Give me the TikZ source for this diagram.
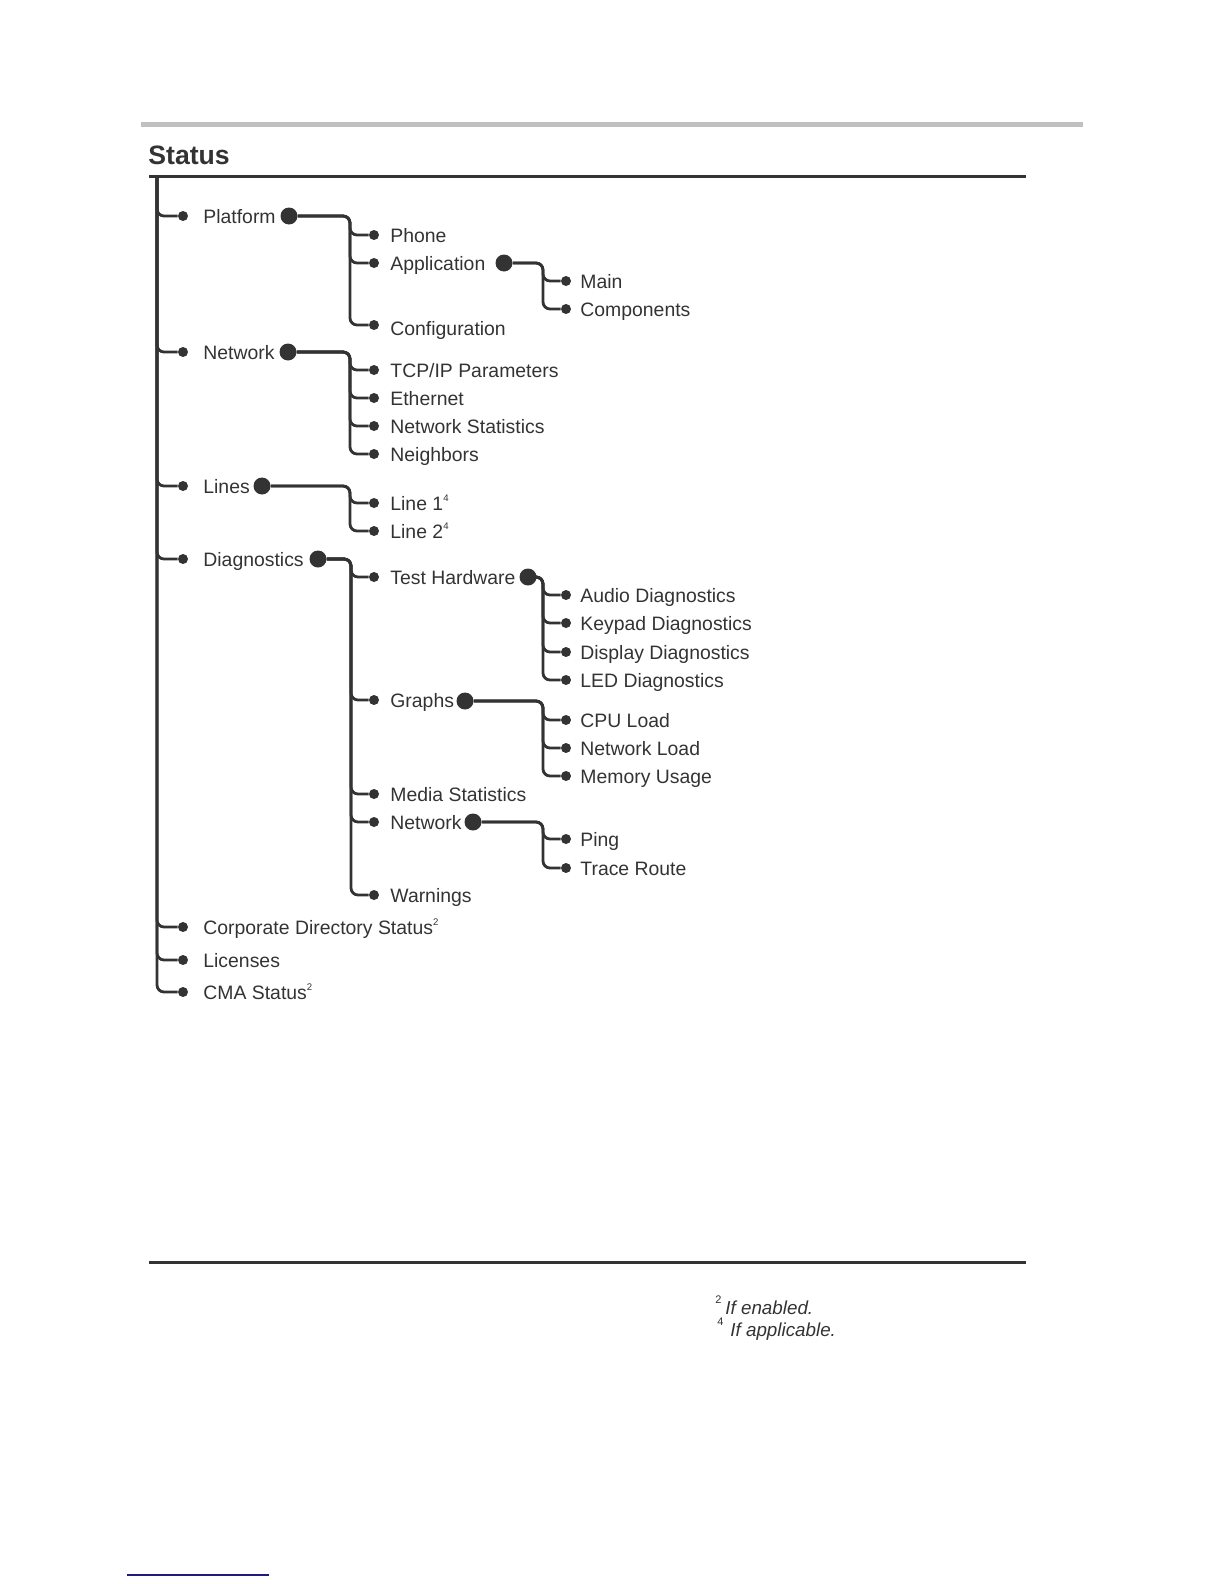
\documentclass[tikz,border=0pt]{standalone}
\usepackage{fontspec}
\setmainfont{Liberation Sans}
\definecolor{ink}{HTML}{333333}
\definecolor{rulegray}{HTML}{C0C0C0}
\definecolor{navy}{HTML}{1C1C80}
\newcommand{\fnm}[1]{\raisebox{0.8ex}{\fontsize{4.8}{5}\selectfont #1}}
\newcommand{\fnbig}[1]{\raisebox{1.0ex}{\fontsize{5.5}{6}\selectfont #1}}
\begin{document}
\begin{tikzpicture}[x=0.5pt,y=-0.5pt,
  branch/.style={draw=ink,line width=1.4pt,rounded corners=3.5pt},
  sdot/.style={circle,fill=ink,inner sep=0pt,minimum size=5pt},
  bdot/.style={circle,fill=ink,inner sep=0pt,minimum size=8.5pt},
  lbl/.style={anchor=base west,inner sep=0pt,text=ink,font=\fontsize{9.7}{11}\selectfont},
  fnote/.style={anchor=base west,inner sep=0pt,text=ink,font=\itshape\fontsize{9.4}{11}\selectfont}]
\useasboundingbox (0,0) rectangle (1224,1584);
% rules
\coordinate (g1) at (141,124.5); \coordinate (g2) at (1083,124.5);
\draw[rulegray,line width=2.3pt] (g1) -- (g2);
\coordinate (r1) at (149,176); \coordinate (r2) at (1026,176);
\draw[ink,line width=1.5pt] (r1) -- (r2);
\coordinate (r3) at (149,1262); \coordinate (r4) at (1026,1262);
\draw[ink,line width=1.5pt] (r3) -- (r4);
\coordinate (b1) at (127,1575); \coordinate (b2) at (269,1575);
\draw[navy,line width=0.8pt] (b1) -- (b2);
% title
\node[anchor=base west,inner sep=0pt,text=ink,font=\bfseries\fontsize{13.3}{15}\selectfont] (title) at (148,164) {Status};
% level 1
\coordinate (top) at (157,176);
\foreach \n/\y/\t in {plat/216/Platform, net/352/Network, lines/486/Lines, diag/559/Diagnostics, corp/927/{Corporate Directory Status\fnm{2}}, lic/960/Licenses, cma/992/{CMA Status\fnm{2}}}{
  \node[sdot] (d\n) at (183,\y) {};
  \node[lbl] (t\n) at (203,\y+7) {\t};
  \draw[branch] (top) |- (d\n);
}
\node[bdot] (bplat) at (289,216) {};
\node[bdot] (bnet) at (288,352) {};
\node[bdot] (blines) at (262,486) {};
\node[bdot] (bdiag) at (318,559) {};
% level 2
\coordinate (vplat) at (350,216);
\foreach \n/\y/\ty/\t in {phone/235/235/Phone, app/263/263/Application, conf/325/328/Configuration}{
  \node[sdot] (d\n) at (374,\y) {};
  \node[lbl] (t\n) at (390,\ty+7) {\t};
  \draw[branch] (bplat) -- (vplat) |- (d\n);
}
\coordinate (vnet) at (350,352);
\foreach \n/\y/\t in {tcp/370/{TCP/IP Parameters}, eth/398/Ethernet, nstat/426/Network Statistics, neigh/454/Neighbors}{
  \node[sdot] (d\n) at (374,\y) {};
  \node[lbl] (t\n) at (390,\y+7) {\t};
  \draw[branch] (bnet) -- (vnet) |- (d\n);
}
\coordinate (vlines) at (350,486);
\foreach \n/\y/\t in {lone/503/{Line 1\fnm{4}}, ltwo/531/{Line 2\fnm{4}}}{
  \node[sdot] (d\n) at (374,\y) {};
  \node[lbl] (t\n) at (390,\y+7) {\t};
  \draw[branch] (blines) -- (vlines) |- (d\n);
}
\coordinate (vdiag) at (351,559);
\foreach \n/\y/\t in {thw/577/Test Hardware, graphs/700/Graphs, media/794/Media Statistics, dnet/822/Network, warn/895/Warnings}{
  \node[sdot] (d\n) at (374,\y) {};
  \node[lbl] (t\n) at (390,\y+7) {\t};
  \draw[branch] (bdiag) -- (vdiag) |- (d\n);
}
\node[bdot] (bapp) at (504,263) {};
\node[bdot] (bthw) at (528,577) {};
\node[bdot] (bgraphs) at (465,701) {};
\node[bdot] (bdnet) at (473,822) {};
% level 3
\coordinate (vapp) at (543,263);
\foreach \n/\y/\t in {main/281/Main, comp/309/Components}{
  \node[sdot] (d\n) at (566,\y) {};
  \node[lbl] (t\n) at (580,\y+7) {\t};
  \draw[branch] (bapp) -- (vapp) |- (d\n);
}
\coordinate (vthw) at (543,577);
\foreach \n/\y/\t in {audio/595/Audio Diagnostics, keypad/623/Keypad Diagnostics, disp/652/Display Diagnostics, led/680/LED Diagnostics}{
  \node[sdot] (d\n) at (566,\y) {};
  \node[lbl] (t\n) at (580,\y+7) {\t};
  \draw[branch] (bthw) -- (vthw) |- (d\n);
}
\coordinate (vgraphs) at (543,701);
\foreach \n/\y/\t in {cpu/720/CPU Load, nload/748/Network Load, mem/776/Memory Usage}{
  \node[sdot] (d\n) at (566,\y) {};
  \node[lbl] (t\n) at (580,\y+7) {\t};
  \draw[branch] (bgraphs) -- (vgraphs) |- (d\n);
}
\coordinate (vdnet) at (543,822);
\foreach \n/\y/\t in {ping/839/Ping, trace/868/Trace Route}{
  \node[sdot] (d\n) at (566,\y) {};
  \node[lbl] (t\n) at (580,\y+7) {\t};
  \draw[branch] (bdnet) -- (vdnet) |- (d\n);
}
% footnotes
\node[anchor=base west,inner sep=0pt,text=ink] (fn2m) at (715,1314) {\fnbig{2}};
\node[fnote] (fn2) at (725,1314) {If enabled.};
\node[anchor=base west,inner sep=0pt,text=ink] (fn4m) at (717,1336) {\fnbig{4}};
\node[fnote] (fn4) at (730,1336) {If applicable.};
\end{tikzpicture}
\end{document}
